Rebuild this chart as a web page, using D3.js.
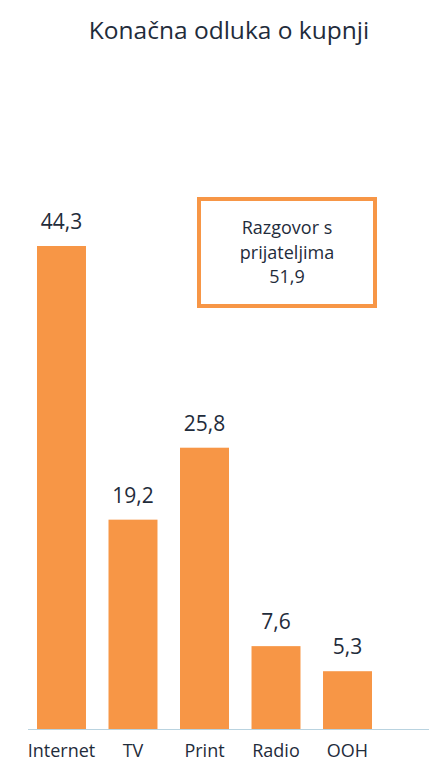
<!DOCTYPE html>
<html>
<head>
<meta charset="utf-8">
<script src="https://cdn.jsdelivr.net/npm/d3@7"></script>
<style>
  body { margin: 0; background: #fff; }
  svg { display: block; font-family: "Open Sans", Lato, sans-serif; }
</style>
</head>
<body>
<svg id="chart" width="429" height="765"></svg>
<script>
// values
const categories = ["Internet", "TV", "Print", "Radio", "OOH"];
const values = [44.3, 19.2, 25.8, 7.6, 5.3];
const boxLines = ["Razgovor s", "prijateljima", "51,9"];
const title = "Konačna odluka o kupnji";

const svg = d3.select("#chart");
const baseY = 729;
const orange = "#f79646";
const textCol = "#1f2c3b";

// scales
const x = d3.scaleBand()
    .domain(categories)
    .range([37, 372])
    .paddingInner(0.315)
    .paddingOuter(0);
const y = d3.scaleLinear()
    .domain([0, 44.3])
    .range([baseY, 246]);

// title
svg.append("text")
   .attr("x", 229).attr("y", 39)
   .attr("text-anchor", "middle")
   .attr("fill", textCol)
   .style("font-size", "24.5px")
   .text(title);

// bars
svg.selectAll("rect.bar")
   .data(values)
   .enter().append("rect")
   .attr("class", "bar")
   .attr("x", (d, i) => x(categories[i]))
   .attr("width", x.bandwidth())
   .attr("y", d => y(d))
   .attr("height", d => baseY - y(d))
   .attr("fill", orange);

// value labels
svg.selectAll("text.val")
   .data(values)
   .enter().append("text")
   .attr("class", "val")
   .attr("x", (d, i) => x(categories[i]) + x.bandwidth() / 2)
   .attr("y", d => y(d) - 17)
   .attr("text-anchor", "middle")
   .attr("fill", textCol)
   .style("font-size", "21px")
   .text(d => d3.format(".1f")(d).replace(".", ","));

// baseline
svg.append("line")
   .attr("x1", 28).attr("x2", 429)
   .attr("y1", baseY + 0.5).attr("y2", baseY + 0.5)
   .attr("stroke", "#b9d3e0")
   .attr("stroke-width", 1);

// category labels
svg.selectAll("text.cat")
   .data(categories)
   .enter().append("text")
   .attr("class", "cat")
   .attr("x", d => x(d) + x.bandwidth() / 2)
   .attr("y", 757)
   .attr("text-anchor", "middle")
   .attr("fill", textCol)
   .style("font-size", "18px")
   .text(d => d);

// callout box
svg.append("rect")
   .attr("x", 199).attr("y", 199)
   .attr("width", 176).attr("height", 107)
   .attr("fill", "none")
   .attr("stroke", orange)
   .attr("stroke-width", 4);

svg.selectAll("text.box")
   .data(boxLines)
   .enter().append("text")
   .attr("class", "box")
   .attr("x", 287)
   .attr("y", (d, i) => 234 + i * 24.5)
   .attr("text-anchor", "middle")
   .attr("fill", textCol)
   .style("font-size", "18px")
   .text(d => d);
</script>
</body>
</html>
